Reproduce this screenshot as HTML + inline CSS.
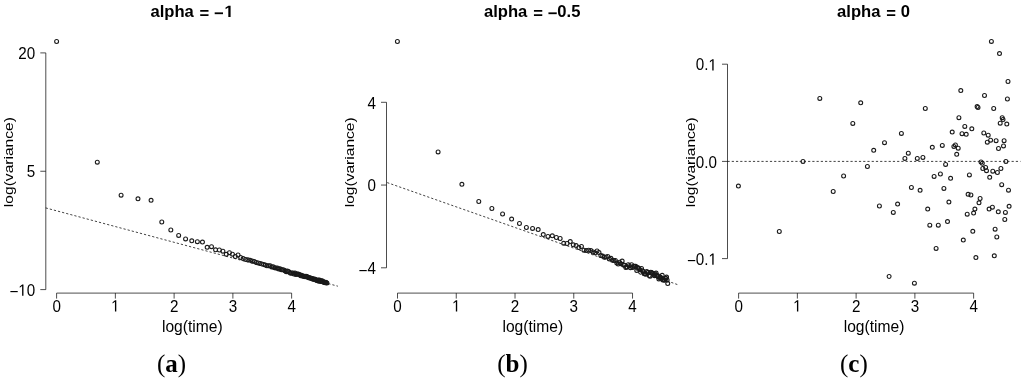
<!DOCTYPE html>
<html><head><meta charset="utf-8"><style>
html,body{margin:0;padding:0;background:#fff;}
svg{display:block;will-change:transform;}
.ax{stroke:#000;stroke-width:0.7;fill:none;}
.dl{stroke:#000;stroke-width:0.75;stroke-dasharray:2.2 2.04;fill:none;}
circle{fill:none;stroke:#1a1a1a;stroke-width:1.1;}
path{fill:#000;stroke:none;}
text{font-family:"Liberation Sans",sans-serif;fill:#000;}
.tl{font-size:15.2px;}
.al{font-size:15.6px;}
.ti{font-size:16.6px;font-weight:bold;}
.cap{font-family:"Liberation Serif",serif;font-size:25px;}
</style></head><body>
<svg width="1024" height="379" viewBox="0 0 1024 379">
<line x1="45.80" y1="52.90" x2="45.80" y2="289.60" class="ax"/>
<line x1="40.30" y1="52.90" x2="45.80" y2="52.90" class="ax"/>
<g transform="translate(35.20,59.10) scale(1.0,1.07)"><text x="-16.91" y="0.00" class="tl">20</text></g>
<line x1="40.30" y1="171.25" x2="45.80" y2="171.25" class="ax"/>
<g transform="translate(35.20,177.45) scale(1.0,1.07)"><text x="-8.45" y="0.00" class="tl">5</text></g>
<line x1="40.30" y1="289.60" x2="45.80" y2="289.60" class="ax"/>
<g transform="translate(35.20,295.80) scale(1.0,1.07)"><text x="-25.78" y="1.50" class="tl">−</text><path transform="translate(-16.91,0) scale(0.00742,-0.00742)" d="M515,0 L515,1237 L197,1010 L197,1180 L530,1409 L696,1409 L696,0 Z"/><text x="-8.45" y="0.00" class="tl">0</text></g>
<line x1="56.60" y1="293.10" x2="291.64" y2="293.10" class="ax"/>
<line x1="56.60" y1="293.10" x2="56.60" y2="298.60" class="ax"/>
<g transform="translate(56.60,311.50) scale(1.0,1.07)"><text x="-4.23" y="0.00" class="tl">0</text></g>
<line x1="115.36" y1="293.10" x2="115.36" y2="298.60" class="ax"/>
<g transform="translate(115.36,311.50) scale(1.0,1.07)"><path transform="translate(-4.23,0) scale(0.00742,-0.00742)" d="M515,0 L515,1237 L197,1010 L197,1180 L530,1409 L696,1409 L696,0 Z"/></g>
<line x1="174.12" y1="293.10" x2="174.12" y2="298.60" class="ax"/>
<g transform="translate(174.12,311.50) scale(1.0,1.07)"><text x="-4.23" y="0.00" class="tl">2</text></g>
<line x1="232.88" y1="293.10" x2="232.88" y2="298.60" class="ax"/>
<g transform="translate(232.88,311.50) scale(1.0,1.07)"><text x="-4.23" y="0.00" class="tl">3</text></g>
<line x1="291.64" y1="293.10" x2="291.64" y2="298.60" class="ax"/>
<g transform="translate(291.64,311.50) scale(1.0,1.07)"><text x="-4.23" y="0.00" class="tl">4</text></g>
<g transform="translate(150.51,17.10)"><text x="0.00" y="0.00" class="ti">alpha</text></g>
<g transform="translate(199.61,19.15)"><text x="0.00" y="0.00" class="ti">=</text></g>
<g transform="translate(214.11,19.15)"><text x="0.00" y="0.00" class="ti">−</text></g>
<g transform="translate(224.44,17.10)"><path transform="translate(0.00,0) scale(0.00811,-0.00811)" d="M478,0 L478,1170 L140,959 L140,1180 L493,1409 L759,1409 L759,0 Z"/></g>
<text x="192.30" y="0" class="al" text-anchor="middle" transform="translate(0,331.50) scale(1,1.0)">log(time)</text>
<text class="al" text-anchor="middle" transform="translate(12.90,162.10) rotate(-90) scale(1,0.86)">log(variance)</text>
<text x="0" y="0" class="cap" text-anchor="middle" transform="translate(171.60,372.00)">(<tspan font-weight="bold">a</tspan>)</text>
<line x1="45.70" y1="207.90" x2="337.90" y2="286.20" class="dl"/>
<circle cx="56.60" cy="41.50" r="1.95"/>
<circle cx="97.29" cy="162.20" r="1.95"/>
<circle cx="121.09" cy="195.20" r="1.95"/>
<circle cx="137.98" cy="198.80" r="1.95"/>
<circle cx="151.07" cy="200.30" r="1.95"/>
<circle cx="161.78" cy="222.00" r="1.95"/>
<circle cx="170.82" cy="230.00" r="1.95"/>
<circle cx="178.66" cy="235.40" r="1.95"/>
<circle cx="185.58" cy="238.90" r="1.95"/>
<circle cx="191.76" cy="240.80" r="1.95"/>
<circle cx="197.36" cy="241.70" r="1.95"/>
<circle cx="202.46" cy="242.10" r="1.95"/>
<circle cx="207.16" cy="247.30" r="1.95"/>
<circle cx="211.51" cy="246.70" r="1.95"/>
<circle cx="215.56" cy="249.80" r="1.95"/>
<circle cx="219.35" cy="250.00" r="1.95"/>
<circle cx="222.91" cy="251.20" r="1.95"/>
<circle cx="226.26" cy="254.30" r="1.95"/>
<circle cx="229.44" cy="252.70" r="1.95"/>
<circle cx="232.45" cy="254.20" r="1.95"/>
<circle cx="235.31" cy="256.50" r="1.95"/>
<circle cx="238.04" cy="255.00" r="1.95"/>
<circle cx="240.65" cy="257.50" r="1.95"/>
<circle cx="243.15" cy="258.60" r="1.95"/>
<circle cx="245.55" cy="259.50" r="1.95"/>
<circle cx="247.85" cy="259.80" r="1.95"/>
<circle cx="250.07" cy="260.30" r="1.95"/>
<circle cx="252.20" cy="261.10" r="1.95"/>
<circle cx="254.26" cy="261.60" r="1.95"/>
<circle cx="256.25" cy="262.40" r="1.95"/>
<circle cx="258.18" cy="262.90" r="1.95"/>
<circle cx="260.04" cy="263.50" r="1.95"/>
<circle cx="261.84" cy="264.00" r="1.95"/>
<circle cx="263.60" cy="264.50" r="1.95"/>
<circle cx="265.30" cy="265.10" r="1.95"/>
<circle cx="266.95" cy="265.80" r="1.95"/>
<circle cx="268.56" cy="265.79" r="1.95"/>
<circle cx="270.13" cy="265.75" r="1.95"/>
<circle cx="271.65" cy="266.96" r="1.95"/>
<circle cx="273.14" cy="266.64" r="1.95"/>
<circle cx="274.59" cy="267.76" r="1.95"/>
<circle cx="276.00" cy="267.99" r="1.95"/>
<circle cx="277.38" cy="268.02" r="1.95"/>
<circle cx="278.73" cy="269.09" r="1.95"/>
<circle cx="280.05" cy="268.87" r="1.95"/>
<circle cx="281.34" cy="269.78" r="1.95"/>
<circle cx="282.60" cy="269.63" r="1.95"/>
<circle cx="283.84" cy="270.00" r="1.95"/>
<circle cx="285.05" cy="270.81" r="1.95"/>
<circle cx="286.24" cy="271.70" r="1.95"/>
<circle cx="287.40" cy="271.04" r="1.95"/>
<circle cx="288.54" cy="271.50" r="1.95"/>
<circle cx="289.66" cy="272.38" r="1.95"/>
<circle cx="290.75" cy="273.15" r="1.95"/>
<circle cx="291.83" cy="272.94" r="1.95"/>
<circle cx="292.89" cy="272.99" r="1.95"/>
<circle cx="293.93" cy="274.11" r="1.95"/>
<circle cx="294.95" cy="273.10" r="1.95"/>
<circle cx="295.95" cy="274.53" r="1.95"/>
<circle cx="296.94" cy="274.02" r="1.95"/>
<circle cx="297.91" cy="274.10" r="1.95"/>
<circle cx="298.86" cy="274.34" r="1.95"/>
<circle cx="299.80" cy="274.87" r="1.95"/>
<circle cx="300.73" cy="275.85" r="1.95"/>
<circle cx="301.64" cy="275.21" r="1.95"/>
<circle cx="302.53" cy="276.02" r="1.95"/>
<circle cx="303.42" cy="276.35" r="1.95"/>
<circle cx="304.29" cy="276.22" r="1.95"/>
<circle cx="305.14" cy="276.71" r="1.95"/>
<circle cx="305.99" cy="276.26" r="1.95"/>
<circle cx="306.82" cy="276.49" r="1.95"/>
<circle cx="307.64" cy="276.93" r="1.95"/>
<circle cx="308.45" cy="277.82" r="1.95"/>
<circle cx="309.25" cy="277.69" r="1.95"/>
<circle cx="310.04" cy="277.75" r="1.95"/>
<circle cx="310.81" cy="278.35" r="1.95"/>
<circle cx="311.58" cy="278.38" r="1.95"/>
<circle cx="312.34" cy="278.38" r="1.95"/>
<circle cx="313.09" cy="279.28" r="1.95"/>
<circle cx="313.82" cy="279.36" r="1.95"/>
<circle cx="314.55" cy="278.92" r="1.95"/>
<circle cx="315.27" cy="279.59" r="1.95"/>
<circle cx="315.99" cy="279.72" r="1.95"/>
<circle cx="316.69" cy="280.41" r="1.95"/>
<circle cx="317.38" cy="280.40" r="1.95"/>
<circle cx="318.07" cy="279.97" r="1.95"/>
<circle cx="318.75" cy="281.13" r="1.95"/>
<circle cx="319.42" cy="280.12" r="1.95"/>
<circle cx="320.08" cy="280.72" r="1.95"/>
<circle cx="320.74" cy="281.38" r="1.95"/>
<circle cx="321.39" cy="280.72" r="1.95"/>
<circle cx="322.03" cy="281.37" r="1.95"/>
<circle cx="322.66" cy="280.92" r="1.95"/>
<circle cx="323.29" cy="281.98" r="1.95"/>
<circle cx="323.91" cy="282.29" r="1.95"/>
<circle cx="324.53" cy="282.19" r="1.95"/>
<circle cx="325.14" cy="282.79" r="1.95"/>
<circle cx="325.74" cy="282.17" r="1.95"/>
<circle cx="326.33" cy="282.87" r="1.95"/>
<circle cx="326.92" cy="282.90" r="1.95"/>
<line x1="386.50" y1="102.30" x2="386.50" y2="267.80" class="ax"/>
<line x1="381.00" y1="102.30" x2="386.50" y2="102.30" class="ax"/>
<g transform="translate(375.90,108.50) scale(1.0,1.07)"><text x="-8.45" y="0.00" class="tl">4</text></g>
<line x1="381.00" y1="185.05" x2="386.50" y2="185.05" class="ax"/>
<g transform="translate(375.90,191.25) scale(1.0,1.07)"><text x="-8.45" y="0.00" class="tl">0</text></g>
<line x1="381.00" y1="267.80" x2="386.50" y2="267.80" class="ax"/>
<g transform="translate(375.90,274.00) scale(1.0,1.07)"><text x="-17.33" y="1.50" class="tl">−</text><text x="-8.45" y="0.00" class="tl">4</text></g>
<line x1="397.50" y1="293.10" x2="632.54" y2="293.10" class="ax"/>
<line x1="397.50" y1="293.10" x2="397.50" y2="298.60" class="ax"/>
<g transform="translate(397.50,311.50) scale(1.0,1.07)"><text x="-4.23" y="0.00" class="tl">0</text></g>
<line x1="456.26" y1="293.10" x2="456.26" y2="298.60" class="ax"/>
<g transform="translate(456.26,311.50) scale(1.0,1.07)"><path transform="translate(-4.23,0) scale(0.00742,-0.00742)" d="M515,0 L515,1237 L197,1010 L197,1180 L530,1409 L696,1409 L696,0 Z"/></g>
<line x1="515.02" y1="293.10" x2="515.02" y2="298.60" class="ax"/>
<g transform="translate(515.02,311.50) scale(1.0,1.07)"><text x="-4.23" y="0.00" class="tl">2</text></g>
<line x1="573.78" y1="293.10" x2="573.78" y2="298.60" class="ax"/>
<g transform="translate(573.78,311.50) scale(1.0,1.07)"><text x="-4.23" y="0.00" class="tl">3</text></g>
<line x1="632.54" y1="293.10" x2="632.54" y2="298.60" class="ax"/>
<g transform="translate(632.54,311.50) scale(1.0,1.07)"><text x="-4.23" y="0.00" class="tl">4</text></g>
<g transform="translate(484.01,17.10)"><text x="0.00" y="0.00" class="ti">alpha</text></g>
<g transform="translate(533.31,19.15)"><text x="0.00" y="0.00" class="ti">=</text></g>
<g transform="translate(547.81,19.15)"><text x="0.00" y="0.00" class="ti">−</text></g>
<g transform="translate(557.34,17.10)"><text x="0.00" y="0.00" class="ti">0.5</text></g>
<text x="532.80" y="0" class="al" text-anchor="middle" transform="translate(0,331.50) scale(1,1.0)">log(time)</text>
<text class="al" text-anchor="middle" transform="translate(353.85,162.30) rotate(-90) scale(1,0.86)">log(variance)</text>
<text x="0" y="0" class="cap" text-anchor="middle" transform="translate(512.50,372.00)">(<tspan font-weight="bold">b</tspan>)</text>
<line x1="387.20" y1="182.60" x2="678.40" y2="284.90" class="dl"/>
<circle cx="397.40" cy="41.50" r="1.95"/>
<circle cx="438.09" cy="151.90" r="1.95"/>
<circle cx="461.89" cy="184.30" r="1.95"/>
<circle cx="478.78" cy="201.50" r="1.95"/>
<circle cx="491.87" cy="208.50" r="1.95"/>
<circle cx="502.58" cy="214.00" r="1.95"/>
<circle cx="511.62" cy="219.10" r="1.95"/>
<circle cx="519.46" cy="223.50" r="1.95"/>
<circle cx="526.38" cy="227.50" r="1.95"/>
<circle cx="532.56" cy="228.40" r="1.95"/>
<circle cx="538.16" cy="229.60" r="1.95"/>
<circle cx="543.26" cy="234.60" r="1.95"/>
<circle cx="547.96" cy="236.40" r="1.95"/>
<circle cx="552.31" cy="235.80" r="1.95"/>
<circle cx="556.36" cy="237.50" r="1.95"/>
<circle cx="560.15" cy="238.50" r="1.95"/>
<circle cx="563.71" cy="243.30" r="1.95"/>
<circle cx="567.06" cy="243.50" r="1.95"/>
<circle cx="570.24" cy="241.60" r="1.95"/>
<circle cx="573.25" cy="244.80" r="1.95"/>
<circle cx="576.11" cy="245.60" r="1.95"/>
<circle cx="578.84" cy="247.60" r="1.95"/>
<circle cx="581.45" cy="246.50" r="1.95"/>
<circle cx="583.95" cy="250.20" r="1.95"/>
<circle cx="586.35" cy="250.60" r="1.95"/>
<circle cx="588.65" cy="250.20" r="1.95"/>
<circle cx="590.87" cy="250.60" r="1.95"/>
<circle cx="593.00" cy="252.00" r="1.95"/>
<circle cx="595.06" cy="252.80" r="1.95"/>
<circle cx="597.05" cy="250.90" r="1.95"/>
<circle cx="598.98" cy="252.40" r="1.95"/>
<circle cx="600.84" cy="255.40" r="1.95"/>
<circle cx="602.64" cy="256.10" r="1.95"/>
<circle cx="604.40" cy="257.20" r="1.95"/>
<circle cx="606.10" cy="256.90" r="1.95"/>
<circle cx="607.75" cy="256.50" r="1.95"/>
<circle cx="609.36" cy="259.10" r="1.95"/>
<circle cx="610.93" cy="258.30" r="1.95"/>
<circle cx="612.45" cy="260.20" r="1.95"/>
<circle cx="613.94" cy="260.59" r="1.95"/>
<circle cx="615.39" cy="260.50" r="1.95"/>
<circle cx="616.80" cy="263.04" r="1.95"/>
<circle cx="618.18" cy="264.12" r="1.95"/>
<circle cx="619.53" cy="262.19" r="1.95"/>
<circle cx="620.85" cy="263.70" r="1.95"/>
<circle cx="622.14" cy="261.09" r="1.95"/>
<circle cx="623.40" cy="264.94" r="1.95"/>
<circle cx="624.64" cy="265.16" r="1.95"/>
<circle cx="625.85" cy="267.45" r="1.95"/>
<circle cx="627.04" cy="267.05" r="1.95"/>
<circle cx="628.20" cy="264.73" r="1.95"/>
<circle cx="629.34" cy="265.72" r="1.95"/>
<circle cx="630.46" cy="267.65" r="1.95"/>
<circle cx="631.55" cy="264.73" r="1.95"/>
<circle cx="632.63" cy="267.41" r="1.95"/>
<circle cx="633.69" cy="266.24" r="1.95"/>
<circle cx="634.73" cy="266.33" r="1.95"/>
<circle cx="635.75" cy="266.37" r="1.95"/>
<circle cx="636.75" cy="270.40" r="1.95"/>
<circle cx="637.74" cy="267.41" r="1.95"/>
<circle cx="638.71" cy="268.35" r="1.95"/>
<circle cx="639.66" cy="269.42" r="1.95"/>
<circle cx="640.60" cy="272.25" r="1.95"/>
<circle cx="641.53" cy="268.48" r="1.95"/>
<circle cx="642.44" cy="270.74" r="1.95"/>
<circle cx="643.33" cy="271.59" r="1.95"/>
<circle cx="644.22" cy="273.65" r="1.95"/>
<circle cx="645.09" cy="273.64" r="1.95"/>
<circle cx="645.94" cy="274.19" r="1.95"/>
<circle cx="646.79" cy="271.46" r="1.95"/>
<circle cx="647.62" cy="272.48" r="1.95"/>
<circle cx="648.44" cy="272.49" r="1.95"/>
<circle cx="649.25" cy="275.52" r="1.95"/>
<circle cx="650.05" cy="276.20" r="1.95"/>
<circle cx="650.84" cy="272.24" r="1.95"/>
<circle cx="651.61" cy="272.62" r="1.95"/>
<circle cx="652.38" cy="273.14" r="1.95"/>
<circle cx="653.14" cy="273.39" r="1.95"/>
<circle cx="653.89" cy="274.93" r="1.95"/>
<circle cx="654.62" cy="275.70" r="1.95"/>
<circle cx="655.35" cy="274.23" r="1.95"/>
<circle cx="656.07" cy="273.10" r="1.95"/>
<circle cx="656.79" cy="275.48" r="1.95"/>
<circle cx="657.49" cy="275.44" r="1.95"/>
<circle cx="658.18" cy="276.68" r="1.95"/>
<circle cx="658.87" cy="278.91" r="1.95"/>
<circle cx="659.55" cy="277.75" r="1.95"/>
<circle cx="660.22" cy="277.06" r="1.95"/>
<circle cx="660.88" cy="277.81" r="1.95"/>
<circle cx="661.54" cy="278.34" r="1.95"/>
<circle cx="662.19" cy="275.33" r="1.95"/>
<circle cx="662.83" cy="279.95" r="1.95"/>
<circle cx="663.46" cy="279.54" r="1.95"/>
<circle cx="664.09" cy="280.25" r="1.95"/>
<circle cx="664.71" cy="280.06" r="1.95"/>
<circle cx="665.33" cy="278.16" r="1.95"/>
<circle cx="665.94" cy="278.41" r="1.95"/>
<circle cx="666.54" cy="277.07" r="1.95"/>
<circle cx="667.13" cy="280.04" r="1.95"/>
<circle cx="667.72" cy="283.60" r="1.95"/>
<line x1="727.50" y1="64.20" x2="727.50" y2="258.60" class="ax"/>
<line x1="722.00" y1="64.20" x2="727.50" y2="64.20" class="ax"/>
<g transform="translate(716.90,70.40) scale(1.0,1.07)"><text x="-21.13" y="0.00" class="tl">0.</text><path transform="translate(-8.45,0) scale(0.00742,-0.00742)" d="M515,0 L515,1237 L197,1010 L197,1180 L530,1409 L696,1409 L696,0 Z"/></g>
<line x1="722.00" y1="161.40" x2="727.50" y2="161.40" class="ax"/>
<g transform="translate(716.90,167.60) scale(1.0,1.07)"><text x="-21.13" y="0.00" class="tl">0.0</text></g>
<line x1="722.00" y1="258.60" x2="727.50" y2="258.60" class="ax"/>
<g transform="translate(716.90,264.80) scale(1.0,1.07)"><text x="-30.01" y="1.50" class="tl">−</text><text x="-21.13" y="0.00" class="tl">0.</text><path transform="translate(-8.45,0) scale(0.00742,-0.00742)" d="M515,0 L515,1237 L197,1010 L197,1180 L530,1409 L696,1409 L696,0 Z"/></g>
<line x1="738.60" y1="293.10" x2="973.64" y2="293.10" class="ax"/>
<line x1="738.60" y1="293.10" x2="738.60" y2="298.60" class="ax"/>
<g transform="translate(738.60,311.50) scale(1.0,1.07)"><text x="-4.23" y="0.00" class="tl">0</text></g>
<line x1="797.36" y1="293.10" x2="797.36" y2="298.60" class="ax"/>
<g transform="translate(797.36,311.50) scale(1.0,1.07)"><path transform="translate(-4.23,0) scale(0.00742,-0.00742)" d="M515,0 L515,1237 L197,1010 L197,1180 L530,1409 L696,1409 L696,0 Z"/></g>
<line x1="856.12" y1="293.10" x2="856.12" y2="298.60" class="ax"/>
<g transform="translate(856.12,311.50) scale(1.0,1.07)"><text x="-4.23" y="0.00" class="tl">2</text></g>
<line x1="914.88" y1="293.10" x2="914.88" y2="298.60" class="ax"/>
<g transform="translate(914.88,311.50) scale(1.0,1.07)"><text x="-4.23" y="0.00" class="tl">3</text></g>
<line x1="973.64" y1="293.10" x2="973.64" y2="298.60" class="ax"/>
<g transform="translate(973.64,311.50) scale(1.0,1.07)"><text x="-4.23" y="0.00" class="tl">4</text></g>
<g transform="translate(837.11,17.10)"><text x="0.00" y="0.00" class="ti">alpha</text></g>
<g transform="translate(886.31,19.15)"><text x="0.00" y="0.00" class="ti">=</text></g>
<g transform="translate(900.74,17.10)"><text x="0.00" y="0.00" class="ti">0</text></g>
<text x="874.00" y="0" class="al" text-anchor="middle" transform="translate(0,331.50) scale(1,1.0)">log(time)</text>
<text class="al" text-anchor="middle" transform="translate(694.90,162.30) rotate(-90) scale(1,0.86)">log(variance)</text>
<text x="0" y="0" class="cap" text-anchor="middle" transform="translate(853.90,372.00)">(<tspan font-weight="bold">c</tspan>)</text>
<line x1="727.50" y1="161.40" x2="1020.50" y2="161.40" class="dl"/>
<circle cx="738.40" cy="186.10" r="1.95"/>
<circle cx="779.30" cy="231.50" r="1.95"/>
<circle cx="803.00" cy="161.40" r="1.95"/>
<circle cx="819.80" cy="98.40" r="1.95"/>
<circle cx="833.20" cy="191.50" r="1.95"/>
<circle cx="843.60" cy="176.00" r="1.95"/>
<circle cx="852.80" cy="123.40" r="1.95"/>
<circle cx="860.70" cy="102.80" r="1.95"/>
<circle cx="867.40" cy="166.50" r="1.95"/>
<circle cx="873.70" cy="150.30" r="1.95"/>
<circle cx="879.40" cy="206.00" r="1.95"/>
<circle cx="884.50" cy="142.70" r="1.95"/>
<circle cx="925.30" cy="108.50" r="1.95"/>
<circle cx="901.40" cy="133.40" r="1.95"/>
<circle cx="908.30" cy="153.20" r="1.95"/>
<circle cx="904.90" cy="158.40" r="1.95"/>
<circle cx="917.30" cy="158.40" r="1.95"/>
<circle cx="922.90" cy="157.40" r="1.95"/>
<circle cx="932.30" cy="147.30" r="1.95"/>
<circle cx="942.30" cy="145.40" r="1.95"/>
<circle cx="952.20" cy="132.10" r="1.95"/>
<circle cx="958.90" cy="117.70" r="1.95"/>
<circle cx="953.90" cy="146.40" r="1.95"/>
<circle cx="955.40" cy="144.90" r="1.95"/>
<circle cx="958.20" cy="148.20" r="1.95"/>
<circle cx="956.70" cy="154.30" r="1.95"/>
<circle cx="960.80" cy="90.60" r="1.95"/>
<circle cx="991.40" cy="41.40" r="1.95"/>
<circle cx="999.50" cy="53.60" r="1.95"/>
<circle cx="1008.00" cy="81.50" r="1.95"/>
<circle cx="984.50" cy="95.50" r="1.95"/>
<circle cx="1007.40" cy="99.00" r="1.95"/>
<circle cx="977.10" cy="106.60" r="1.95"/>
<circle cx="978.00" cy="107.50" r="1.95"/>
<circle cx="993.70" cy="108.50" r="1.95"/>
<circle cx="1002.20" cy="117.70" r="1.95"/>
<circle cx="1003.00" cy="119.50" r="1.95"/>
<circle cx="1000.20" cy="123.20" r="1.95"/>
<circle cx="1006.80" cy="124.10" r="1.95"/>
<circle cx="964.80" cy="126.40" r="1.95"/>
<circle cx="971.80" cy="128.80" r="1.95"/>
<circle cx="962.00" cy="133.70" r="1.95"/>
<circle cx="966.20" cy="134.30" r="1.95"/>
<circle cx="983.80" cy="133.00" r="1.95"/>
<circle cx="988.20" cy="135.20" r="1.95"/>
<circle cx="990.60" cy="140.20" r="1.95"/>
<circle cx="987.30" cy="142.20" r="1.95"/>
<circle cx="996.10" cy="140.70" r="1.95"/>
<circle cx="1004.10" cy="140.70" r="1.95"/>
<circle cx="1003.50" cy="145.90" r="1.95"/>
<circle cx="998.50" cy="148.50" r="1.95"/>
<circle cx="945.60" cy="164.40" r="1.95"/>
<circle cx="934.10" cy="176.40" r="1.95"/>
<circle cx="940.40" cy="174.00" r="1.95"/>
<circle cx="950.60" cy="178.30" r="1.95"/>
<circle cx="911.40" cy="187.50" r="1.95"/>
<circle cx="920.10" cy="190.30" r="1.95"/>
<circle cx="943.90" cy="188.40" r="1.95"/>
<circle cx="897.60" cy="204.10" r="1.95"/>
<circle cx="893.30" cy="212.40" r="1.95"/>
<circle cx="927.70" cy="209.10" r="1.95"/>
<circle cx="948.90" cy="202.10" r="1.95"/>
<circle cx="981.00" cy="162.00" r="1.95"/>
<circle cx="982.30" cy="163.30" r="1.95"/>
<circle cx="982.80" cy="168.50" r="1.95"/>
<circle cx="985.60" cy="167.50" r="1.95"/>
<circle cx="986.50" cy="170.70" r="1.95"/>
<circle cx="992.80" cy="171.20" r="1.95"/>
<circle cx="997.40" cy="172.50" r="1.95"/>
<circle cx="1000.90" cy="168.50" r="1.95"/>
<circle cx="1005.90" cy="161.40" r="1.95"/>
<circle cx="969.40" cy="174.90" r="1.95"/>
<circle cx="989.70" cy="177.30" r="1.95"/>
<circle cx="1001.70" cy="184.70" r="1.95"/>
<circle cx="1008.50" cy="190.20" r="1.95"/>
<circle cx="968.10" cy="194.30" r="1.95"/>
<circle cx="970.90" cy="195.00" r="1.95"/>
<circle cx="980.10" cy="198.50" r="1.95"/>
<circle cx="979.00" cy="202.80" r="1.95"/>
<circle cx="1009.10" cy="206.30" r="1.95"/>
<circle cx="974.90" cy="209.10" r="1.95"/>
<circle cx="973.60" cy="213.10" r="1.95"/>
<circle cx="967.20" cy="214.20" r="1.95"/>
<circle cx="989.10" cy="209.10" r="1.95"/>
<circle cx="992.40" cy="207.20" r="1.95"/>
<circle cx="998.30" cy="211.80" r="1.95"/>
<circle cx="1005.40" cy="212.40" r="1.95"/>
<circle cx="1004.80" cy="219.50" r="1.95"/>
<circle cx="929.80" cy="225.20" r="1.95"/>
<circle cx="938.30" cy="225.20" r="1.95"/>
<circle cx="947.50" cy="221.60" r="1.95"/>
<circle cx="936.10" cy="248.40" r="1.95"/>
<circle cx="889.10" cy="276.50" r="1.95"/>
<circle cx="914.40" cy="283.20" r="1.95"/>
<circle cx="972.80" cy="231.30" r="1.95"/>
<circle cx="995.10" cy="229.20" r="1.95"/>
<circle cx="996.80" cy="237.00" r="1.95"/>
<circle cx="963.30" cy="240.10" r="1.95"/>
<circle cx="975.90" cy="257.60" r="1.95"/>
<circle cx="994.30" cy="255.80" r="1.95"/>
</svg>
</body></html>
